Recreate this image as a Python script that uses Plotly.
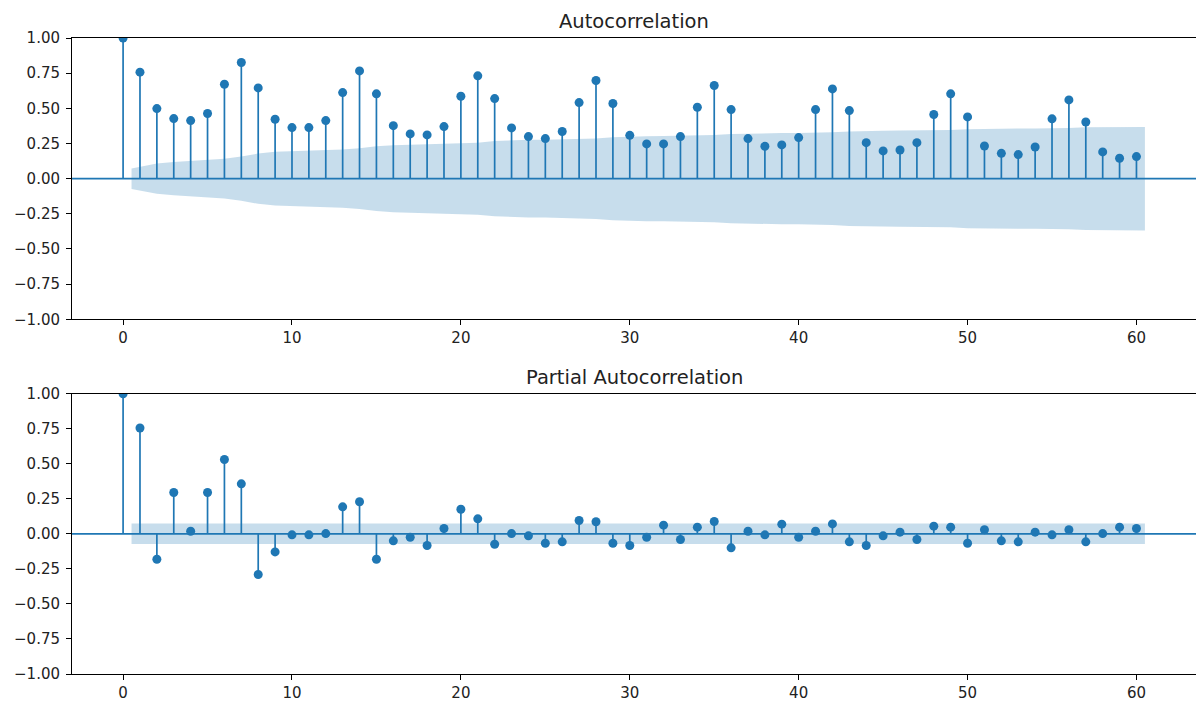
import plotly.graph_objects as go

# Lags 0..60
lags = list(range(61))

# Sample autocorrelation
acf_values = [
    1.000, 0.757, 0.498, 0.427, 0.413, 0.463, 0.671, 0.826, 0.645, 0.422,
    0.363, 0.363, 0.413, 0.612, 0.766, 0.603, 0.377, 0.318, 0.311, 0.370,
    0.586, 0.731, 0.569, 0.361, 0.299, 0.285, 0.335, 0.541, 0.698, 0.534,
    0.308, 0.247, 0.247, 0.299, 0.508, 0.662, 0.491, 0.285, 0.230, 0.240,
    0.292, 0.491, 0.638, 0.484, 0.256, 0.197, 0.204, 0.256, 0.456, 0.603,
    0.439, 0.232, 0.180, 0.171, 0.225, 0.425, 0.560, 0.403, 0.190, 0.145,
    0.157,
]

# Sample partial autocorrelation
pacf_values = [
    1.000, 0.755, -0.181, 0.295, 0.019, 0.295, 0.531, 0.357, -0.290, -0.129,
    -0.007, -0.007, 0.002, 0.193, 0.229, -0.181, -0.050, -0.024, -0.083, 0.038,
    0.176, 0.107, -0.074, 0.002, -0.014, -0.067, -0.057, 0.095, 0.086, -0.067,
    -0.083, -0.024, 0.062, -0.040, 0.048, 0.088, -0.100, 0.019, -0.007, 0.069,
    -0.024, 0.019, 0.071, -0.057, -0.083, -0.014, 0.012, -0.040, 0.055, 0.048,
    -0.067, 0.029, -0.050, -0.057, 0.012, -0.007, 0.029, -0.057, 0.002, 0.048,
    0.038,
]

# 95% confidence half-widths for lags 1..60
acf_band = [
    0.073, 0.107, 0.118, 0.126, 0.133, 0.141, 0.157, 0.179, 0.191, 0.195,
    0.199, 0.202, 0.207, 0.216, 0.230, 0.238, 0.241, 0.244, 0.246, 0.249,
    0.256, 0.267, 0.273, 0.276, 0.277, 0.279, 0.281, 0.286, 0.295, 0.300,
    0.302, 0.303, 0.304, 0.306, 0.310, 0.317, 0.321, 0.323, 0.324, 0.325,
    0.326, 0.330, 0.336, 0.340, 0.341, 0.342, 0.342, 0.343, 0.346, 0.352,
    0.355, 0.356, 0.356, 0.357, 0.357, 0.360, 0.365, 0.367, 0.367, 0.368,
]
pacf_band = [0.073] * 60

y_ticks = [-1.0, -0.75, -0.5, -0.25, 0.0, 0.25, 0.5, 0.75, 1.0]
x_ticks = [0, 10, 20, 30, 40, 50, 60]

C0 = "#1f77b4"
BAND = "rgba(31,119,180,0.25)"
FONT = "DejaVu Sans"
TEXT = "#222222"

fig = go.Figure()


def add_panel(values, band, xa, ya):
    # shaded confidence region spanning half a lag beyond the first/last lag
    bx = [float(v) for v in lags[1:]]
    bx[0] -= 0.5
    bx[-1] += 0.5
    fig.add_trace(go.Scatter(
        x=bx, y=[-b for b in band], xaxis=xa, yaxis=ya, mode="lines",
        line=dict(width=0, color=BAND), hoverinfo="skip", showlegend=False,
    ))
    fig.add_trace(go.Scatter(
        x=bx, y=band, xaxis=xa, yaxis=ya, mode="lines", fill="tonexty",
        fillcolor=BAND, line=dict(width=0, color=BAND),
        hoverinfo="skip", showlegend=False,
    ))
    # stems
    sx, sy = [], []
    for k, v in zip(lags, values):
        sx += [k, k, None]
        sy += [0, v, None]
    fig.add_trace(go.Scatter(
        x=sx, y=sy, xaxis=xa, yaxis=ya, mode="lines",
        line=dict(color=C0, width=1.7), hoverinfo="skip", showlegend=False,
    ))
    # markers
    fig.add_trace(go.Scatter(
        x=lags, y=values, xaxis=xa, yaxis=ya, mode="markers",
        marker=dict(color=C0, size=9, line=dict(width=0)),
        showlegend=False,
    ))


add_panel(acf_values, acf_band, "x", "y")
add_panel(pacf_values, pacf_band, "x2", "y2")

axis_common = dict(
    showgrid=False, zeroline=False, showline=True, mirror=True,
    linecolor="black", linewidth=1, ticks="outside", ticklen=5,
    tickwidth=1, tickcolor="black",
    tickfont=dict(family=FONT, size=15, color=TEXT),
)

x_common = dict(axis_common, range=[-3.025, 63.525], tickmode="array",
                tickvals=x_ticks, ticktext=[str(t) for t in x_ticks])
y_common = dict(axis_common, range=[-1.0, 1.0], tickmode="array",
                tickvals=y_ticks, ticktext=[f"{t:.2f}".replace("-", "\u2212") for t in y_ticks],
                ticklabelstandoff=3)

fig.update_layout(
    width=1196, height=702,
    margin=dict(l=72, r=0, t=38, b=28),
    paper_bgcolor="white", plot_bgcolor="white",
    font=dict(family=FONT, color=TEXT),
    xaxis=dict(x_common, domain=[0, 1], anchor="y"),
    yaxis=dict(y_common, domain=[0.5577, 1.0], anchor="x"),
    xaxis2=dict(x_common, domain=[0, 1], anchor="y2"),
    yaxis2=dict(y_common, domain=[0.0, 0.4407], anchor="x2"),
    showlegend=False,
    shapes=[
        dict(type="line", xref="x domain", yref="y", x0=0, x1=1, y0=0, y1=0,
             line=dict(color=C0, width=1.7), layer="above"),
        dict(type="line", xref="x2 domain", yref="y2", x0=0, x1=1, y0=0, y1=0,
             line=dict(color=C0, width=1.7), layer="above"),
    ],
    annotations=[
        dict(text="Autocorrelation", xref="x domain", yref="y domain",
             x=0.5, y=1, xanchor="center", yanchor="bottom", yshift=3,
             showarrow=False, font=dict(family=FONT, size=19.5, color=TEXT)),
        dict(text="Partial Autocorrelation", xref="x2 domain", yref="y2 domain",
             x=0.5, y=1, xanchor="center", yanchor="bottom", yshift=3,
             showarrow=False, font=dict(family=FONT, size=19.5, color=TEXT)),
    ],
)

fig.write_html("out.html")
